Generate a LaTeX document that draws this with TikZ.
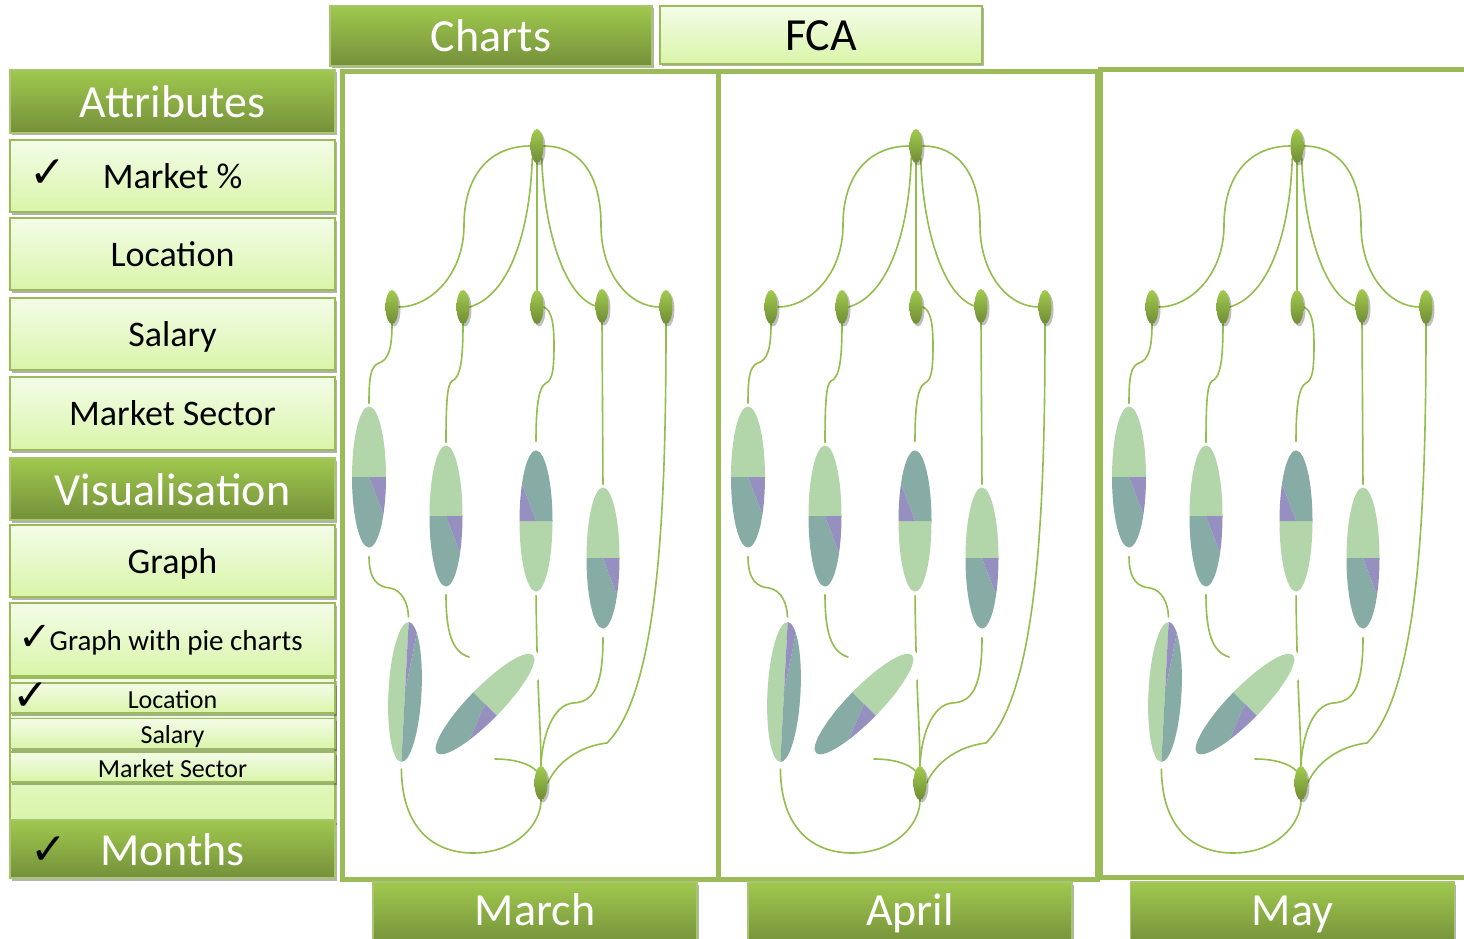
\documentclass[tikz,border=0pt]{standalone}
\usepackage{fontspec}
\setmainfont{Carlito}
\newfontfamily\symf{DejaVu Sans}
\usetikzlibrary{shapes.geometric,shadows}

\definecolor{olive}{HTML}{9BBB59}
\definecolor{linkc}{HTML}{93BD4C}
\definecolor{hdrtop}{HTML}{A0C84E}
\definecolor{hdrbot}{HTML}{74903A}
\definecolor{lbtop}{HTML}{F4FCE8}
\definecolor{lbbot}{HTML}{D9F5A9}
\definecolor{pielight}{HTML}{B2D5AA}
\definecolor{pieteal}{HTML}{87ACA6}
\definecolor{piepurple}{HTML}{9590BF}
\definecolor{nodetop}{HTML}{A2CB4E}
\definecolor{nodebot}{HTML}{6F8C35}

\pgfdeclarelayer{back}
\pgfdeclarelayer{mid}
\pgfsetlayers{back,mid,main}

\tikzset{
  btnshadow/.style={drop shadow={shadow xshift=1.5pt,shadow yshift=-2.5pt,opacity=0.3,fill=black}},
  darkbtn/.style={rectangle,draw=olive!85!white,line width=1.2,top color=hdrtop,bottom color=hdrbot,
    text=white,minimum width=325,inner sep=0,btnshadow,font=\fontsize{46}{50}\selectfont,
    text height=40pt,text depth=8pt},
  lightbtn/.style={rectangle,draw=olive,line width=1.2,top color=lbtop,bottom color=lbbot,
    text=black,minimum width=325,inner sep=0,btnshadow,font=\fontsize{36}{40}\selectfont,
    text height=31pt,text depth=7pt},
  smallbtn/.style={lightbtn,font=\fontsize{26}{28}\selectfont,text height=25pt,text depth=5pt},
  tabdown/.style={darkbtn,minimum width=324,minimum height=64,text height=31pt,text depth=9pt},
  tick/.style={font=\symf\fontsize{44}{46}\selectfont,anchor=base,inner sep=0},
  gnode/.style={ellipse,minimum width=13,minimum height=34,inner sep=0,top color=nodetop,
    bottom color=nodebot,drop shadow={shadow xshift=2pt,shadow yshift=-2.5pt,opacity=0.25,fill=black}},
  link/.style={draw=linkc,line width=1.6,line cap=round},
  pienode/.style={ellipse,inner sep=0,draw=none},
  panel/.style={rectangle,draw=olive,line width=5,fill=white,inner sep=0},
}

% a squashed pie chart: name, centre x, centre y, width, height, tilt, start angle
\newcommand\piewedges[7]{%
  \node[pienode,minimum width=#4,minimum height=#5,rotate=#6] (#1) at (#2,#3) {};
  \begin{scope}[shift={(#2,#3)},rotate=#6,xscale=#4/2,yscale=-#5/2]
    \fill[pielight] (0,0) -- (#7:1) arc[start angle=#7,end angle=#7+180,radius=1] -- cycle;
    \fill[pieteal] (0,0) -- (#7+180:1) arc[start angle=#7+180,end angle=#7+328,radius=1] -- cycle;
    \fill[piepurple] (0,0) -- (#7+328:1) arc[start angle=#7+328,end angle=#7+360,radius=1] -- cycle;
  \end{scope}}

% one month's concept graph: name prefix, horizontal offset
\newcommand\fcagraph[2]{%
\begin{scope}[shift={(#2,0)}]
  \node[gnode] (#1root) at (537,146) {};
  \node[gnode] (#1n1) at (392,307) {};
  \node[gnode] (#1n2) at (463,307) {};
  \node[gnode] (#1n3) at (537,307) {};
  \node[gnode] (#1n4) at (602,306) {};
  \node[gnode] (#1n5) at (666,307) {};
  \node[gnode] (#1bot) at (541,783) {};
  % white card behind the tilted pie
  \begin{scope}[shift={(485,704)},rotate=-44.4]
    \fill[white] (-21,-73) rectangle (21,73);
  \end{scope}
  \piewedges{#1p6}{485}{704}{33}{137}{-44.4}{0}
  \piewedges{#1p1}{369}{477}{34}{141}{0}{0}
  \piewedges{#1p2}{446}{516}{33}{141}{0}{0}
  \piewedges{#1p3}{536}{521}{33}{141}{0}{180}
  \piewedges{#1p4}{603}{558}{33}{141}{0}{0}
  \piewedges{#1p5}{405}{692}{33}{140}{-3}{90}
  \coordinate (#1f1) at (469,657);
  \coordinate (#1f2) at (495,759);
  \begin{pgfonlayer}{mid}
    \draw[link] (#1root.west) .. controls (490,146) and (464,175) .. (464,225)
                .. controls (464,275) and (430,307) .. (#1n1.east);
    \draw[link] (#1root.south west) .. controls (530,230) and (510,295) .. (#1n2.east);
    \draw[link] (#1root.south) -- (#1n3.north);
    \draw[link] (#1root.south east) .. controls (544,230) and (564,295) .. (#1n4.west);
    \draw[link] (#1root.east) .. controls (580,146) and (601,175) .. (601,225)
                .. controls (601,275) and (630,307) .. (#1n5.west);
    \draw[link,shorten >=3] (#1n1.south) .. controls (392,350) and (388,360) .. (379,363)
                .. controls (370,366) and (369,380) .. (#1p1.north);
    \draw[link,shorten >=3] (#1n2.south) .. controls (463,362) and (460,378) .. (452,381)
                .. controls (447,384) and (446,405) .. (#1p2.north);
    \draw[link,shorten >=9] (#1n3.east) .. controls (552,310) and (554,325) .. (554,345)
                .. controls (554,372) and (552,380) .. (546,383)
                .. controls (538,387) and (536,410) .. (#1p3.north);
    \draw[link,shorten >=3] (#1n4.south) -- (#1p4.north);
    \draw[link] (#1n5.south) .. controls (666,500) and (660,690) .. (607,743)
                .. controls (580,746) and (557,762) .. (#1bot.east);
    \draw[link,shorten <=9,shorten >=5] (#1p1.south) .. controls (369,580) and (378,587) .. (390,588)
                .. controls (402,590) and (408,603) .. (#1p5.north);
    \draw[link,shorten <=8] (#1p2.south) .. controls (446,632) and (452,652) .. (#1f1);
    \draw[link,shorten <=4] (#1p3.south) .. controls (537,690) and (541,730) .. (#1bot.north);
    \draw[link,shorten <=9] (#1p4.south) .. controls (603,690) and (592,702) .. (573,703)
                .. controls (552,705) and (542,738) .. (#1bot.north);
    \draw[link,shorten <=7] (#1p5.south) .. controls (402,830) and (435,853) .. (473,853)
                .. controls (515,853) and (541,825) .. (#1bot.south);
    \draw[link] (#1f2) .. controls (515,759) and (530,764) .. (#1bot.north west);
  \end{pgfonlayer}
\end{scope}}

\begin{document}
\begin{tikzpicture}[x=1pt,y=-1pt]
  \useasboundingbox (0,0) rectangle (1464,939);
  \clip (0,0) rectangle (1464,939);

  % month panels
  \begin{pgfonlayer}{back}
    \node[panel,minimum width=376,minimum height=807] (pmarch) at (530,475.5) {};
    \node[panel,minimum width=379.5,minimum height=807] (papril) at (907.75,475.5) {};
    \node[panel,minimum width=389.5,minimum height=807] (pmay) at (1295,473.5) {};
  \end{pgfonlayer}

  \fcagraph{a}{0}
  \fcagraph{b}{379}
  \fcagraph{c}{760}

  % tabs above the panels
  \node[darkbtn,minimum width=322,minimum height=60] (charts) at (491,36) {Charts};
  \node[lightbtn,minimum width=322,minimum height=58,font=\fontsize{46}{50}\selectfont,
        text height=40pt,text depth=8pt] (fca) at (821,35) {FCA};

  % month tabs below the panels
  \node[tabdown] (march) at (535,914) {March};
  \node[tabdown] (april) at (910,914) {April};
  \node[tabdown] (may) at (1292.5,914) {May};

  % side menu
  \node[darkbtn,minimum height=63] (attr) at (172.5,101.5) {Attributes};
  \node[lightbtn,minimum height=72] (mkt) at (172.5,176) {Market \%};
  \node[tick] (mkttick) at (48,187) {✓};
  \node[lightbtn,minimum height=72] (loc) at (172.5,254) {Location};
  \node[lightbtn,minimum height=72] (sal) at (172.5,334) {Salary};
  \node[lightbtn,minimum height=73] (sec) at (172.5,413.5) {Market Sector};
  \node[darkbtn,minimum height=62] (vis) at (172.5,489) {Visualisation};
  \node[lightbtn,minimum height=72] (graph) at (172.5,561) {Graph};
  \node[lightbtn,minimum height=73] (gpc) at (172.5,639.5) {};
  \node[anchor=base west,inner sep=0,font=\fontsize{29}{32}\selectfont] (gpctext) at (18,650)
       {{\symf\fontsize{40}{42}\selectfont ✓}\kern-2pt Graph with pie charts};
  \node[lightbtn,minimum height=144] (sublist) at (172.5,750) {};
  \node[smallbtn,minimum height=28] (loc2) at (172.5,698) {Location};
  \node[tick] (loc2tick) at (31,710) {✓};
  \node[smallbtn,minimum height=27] (sal2) at (172.5,733.5) {Salary};
  \node[smallbtn,minimum height=28] (sec2) at (172.5,767) {Market Sector};
  \node[darkbtn,minimum height=58] (months) at (172.5,849) {Months};
  \node[tick,text=black] (monthstick) at (49,864) {✓};
\end{tikzpicture}
\end{document}
